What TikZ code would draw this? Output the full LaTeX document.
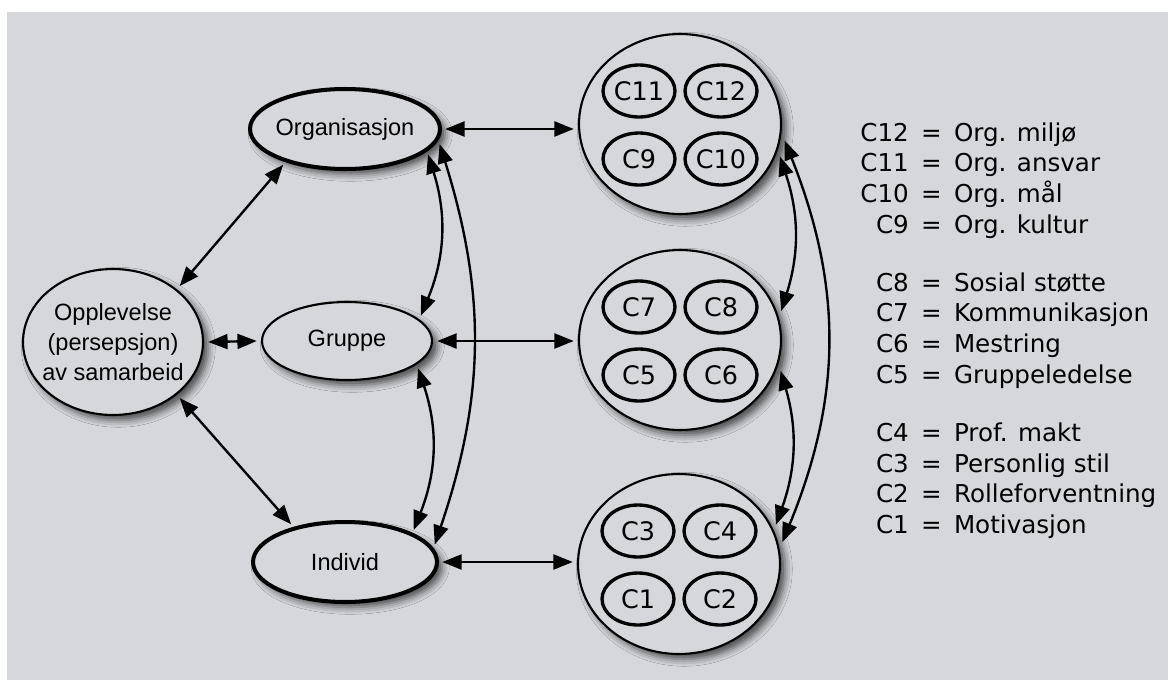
\documentclass[tikz,border=0pt]{standalone}
\usepackage{fontspec}
\setmainfont{Liberation Sans}
\newfontfamily\legendfont{DejaVu Sans}
\usetikzlibrary{shapes.geometric,arrows.meta,shadows.blur}
\definecolor{paper}{RGB}{214,215,219}

\tikzset{
  factor/.style={ellipse, draw, line width=1.2pt, fill=paper, inner sep=0pt, outer sep=3pt,
    blur shadow={shadow xshift=3pt, shadow yshift=-3pt, shadow blur radius=4pt, shadow opacity=65}},
  factorbold/.style={factor, line width=2.3pt},
  cluster/.style={factor, minimum width=4.04cm, minimum height=3.6cm},
  cell/.style={ellipse, draw, line width=1.9pt, minimum width=1.44cm, minimum height=1.04cm,
    inner sep=0pt, font=\legendfont\fontsize{14.5}{16}\selectfont},
  nodetext/.style={font=\fontsize{13.4}{17}\selectfont, align=center, inner sep=0pt},
  link/.style={{Triangle[length=11pt,width=8.5pt]}-{Triangle[length=11pt,width=8.5pt]}, line width=1.35pt},
}

\begin{document}
\begin{tikzpicture}[x=0.02cm, y=-0.02cm]
% page
\fill[white] (0,0) rectangle (1168,680);
\fill[paper] (7,12) rectangle (1168,680);
\useasboundingbox (0,0) rectangle (1168,680);

% levels
\node[factor, minimum width=3.6cm, minimum height=2.92cm,
  label={[nodetext]center:{Opplevelse\\(persepsjon)\\av samarbeid}}] (opp) at (113,342) {};
\node[factorbold, minimum width=3.8cm, minimum height=1.6cm,
  label={[nodetext]center:Organisasjon}] (org) at (345,129) {};
\node[factor, minimum width=3.4cm, minimum height=1.56cm,
  label={[nodetext]center:Gruppe}] (grp) at (347,341) {};
\node[factorbold, minimum width=3.68cm, minimum height=1.6cm,
  label={[nodetext]center:Individ}] (ind) at (345,562) {};

% clusters of factors
\node[cluster] (cOrg) at (680,124) {};
\node[cluster] (cGrp) at (680,340) {};
\node[cluster] (cInd) at (679,564) {};
\foreach \cl/\a/\b/\c/\d in {cOrg/11/12/9/10, cGrp/7/8/5/6, cInd/3/4/1/2} {
  \node[cell] (c\a) at ([shift={(-41,-33)}]\cl.center) {C\a};
  \node[cell] (c\b) at ([shift={(41,-33)}]\cl.center) {C\b};
  \node[cell] (c\c) at ([shift={(-41,35)}]\cl.center) {C\c};
  \node[cell] (c\d) at ([shift={(41,35)}]\cl.center) {C\d};
}

% legend
\node[anchor=base west, inner sep=0pt, font=\legendfont\fontsize{14}{17.6}\selectfont] (legend) at (860,141) {%
  \begin{tabular}[t]{@{}r@{\hspace{7pt}=\hspace{7pt}}l@{}}
    C12 & Org. miljø\\
    C11 & Org. ansvar\\
    C10 & Org. mål\\
    C9 & Org. kultur\\[15pt]
    C8 & Sosial støtte\\
    C7 & Kommunikasjon\\
    C6 & Mestring\\
    C5 & Gruppeledelse\\[15pt]
    C4 & Prof. makt\\
    C3 & Personlig stil\\
    C2 & Rolleforventning\\
    C1 & Motivasjon
  \end{tabular}};

% straight links
\draw[link] (opp.40) -- (org.210);
\draw[link] (opp.east) -- (grp.west);
\draw[link] (opp.-40) -- (ind.145);
\draw[link] (org.east) -- (org.east -| cOrg.west);
\draw[link] (grp.east) -- (grp.east -| cGrp.west);
\draw[link] (ind.east) -- (ind.east -| cInd.west);

% curved links between levels
\draw[link] (org.-17) to[bend left=20] (grp.19);
\draw[link] (org.-9) to[bend left=18] (ind.11);
\draw[link] (grp.-21) to[bend left=20] (ind.25);
\draw[link] (cOrg.-18) to[bend left=18] (cGrp.16);
\draw[link] (cOrg.-9) to[bend left=22] (cInd.12);
\draw[link] (cGrp.-17) to[bend left=18] (cInd.22);
\end{tikzpicture}
\end{document}
